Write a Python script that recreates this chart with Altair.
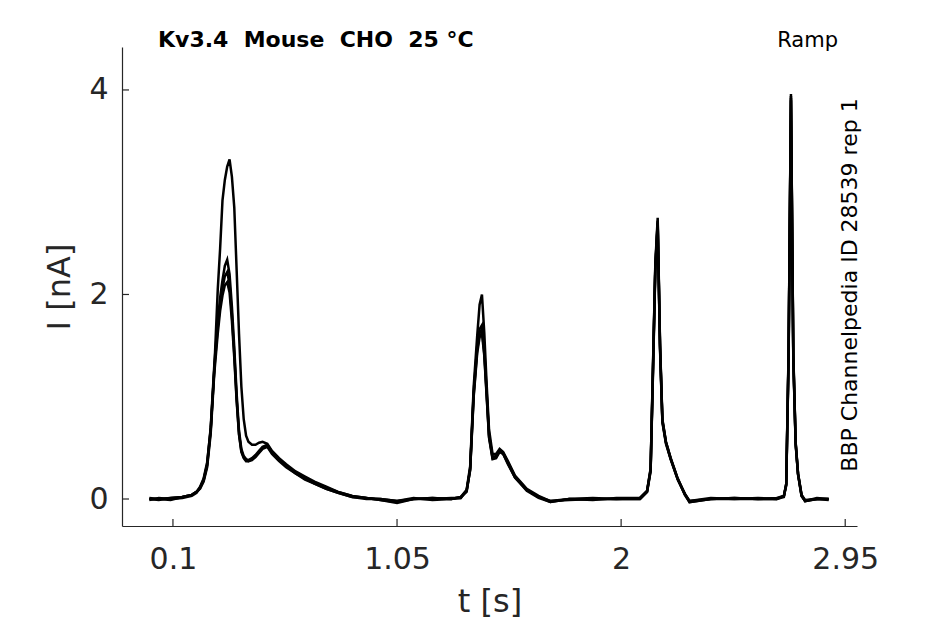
import altair as alt
import pandas as pd

# ---- data (time in s, current in nA) ----
t_seg1 = [0.000, 0.04, 0.09, 0.14, 0.18, 0.20, 0.215, 0.23, 0.245, 0.26,
          0.275, 0.29, 0.30, 0.31, 0.32, 0.33, 0.34, 0.35, 0.36, 0.37,
          0.38, 0.39, 0.40, 0.41, 0.42, 0.435, 0.45, 0.465, 0.48, 0.50,
          0.52, 0.55, 0.58, 0.62, 0.66, 0.70, 0.75, 0.80, 0.86, 0.92,
          0.98, 1.05, 1.12, 1.20, 1.28]
t_seg2 = [1.32, 1.345, 1.36, 1.375, 1.39, 1.40, 1.41, 1.42, 1.43, 1.44,
          1.455, 1.47, 1.485, 1.50, 1.52, 1.55, 1.60, 1.65, 1.70, 1.78,
          1.88, 1.98]
t_seg3 = [2.08, 2.11, 2.125, 2.135, 2.145, 2.155, 2.165, 2.175, 2.19, 2.21,
          2.24, 2.27, 2.29, 2.38, 2.48, 2.58]
t_seg4 = [2.66, 2.69, 2.70, 2.71, 2.72, 2.73, 2.74, 2.75, 2.765, 2.78, 2.83, 2.88]

sweep_A = ([0.00, -0.01, 0.01, 0.02, 0.04, 0.07, 0.12, 0.20, 0.36, 0.68,
            1.25, 2.05, 2.45, 2.92, 3.12, 3.25, 3.32, 3.15, 2.85, 2.24,
            1.62, 1.10, 0.78, 0.62, 0.56, 0.53, 0.53, 0.55, 0.56, 0.54,
            0.47, 0.40, 0.34, 0.27, 0.22, 0.17, 0.12, 0.07, 0.03, 0.01,
            0.00, -0.02, 0.00, 0.01, 0.00]
           + [0.02, 0.09, 0.32, 1.10, 1.60, 1.90, 2.00, 1.62, 1.12, 0.68,
              0.44, 0.44, 0.49, 0.46, 0.37, 0.23, 0.10, 0.03, -0.02, -0.01,
              0.00, 0.00]
           + [0.01, 0.08, 0.30, 1.30, 2.30, 2.75, 1.52, 0.78, 0.56, 0.40,
              0.20, 0.05, -0.03, 0.00, 0.01, 0.00]
           + [0.00, 0.03, 0.15, 1.45, 3.96, 1.40, 0.55, 0.25, 0.04, -0.02, 0.00, 0.00])

sweep_B = ([0.01, 0.00, -0.01, 0.02, 0.04, 0.07, 0.11, 0.19, 0.34, 0.70,
            1.30, 1.74, 1.97, 2.14, 2.28, 2.34, 2.20, 1.88, 1.48, 1.03,
            0.67, 0.49, 0.42, 0.39, 0.38, 0.40, 0.43, 0.47, 0.51, 0.53,
            0.46, 0.39, 0.33, 0.26, 0.21, 0.16, 0.11, 0.07, 0.03, 0.01,
            -0.01, -0.03, 0.00, 0.00, 0.01]
           + [0.01, 0.08, 0.30, 1.05, 1.50, 1.66, 1.70, 1.46, 1.05, 0.63,
              0.41, 0.42, 0.48, 0.45, 0.36, 0.22, 0.09, 0.02, -0.03, 0.00,
              0.01, 0.00]
           + [0.00, 0.07, 0.28, 1.25, 2.26, 2.72, 1.48, 0.76, 0.55, 0.39,
              0.19, 0.05, -0.02, 0.01, 0.00, 0.00]
           + [0.01, 0.03, 0.14, 1.40, 3.92, 1.38, 0.54, 0.24, 0.03, -0.02, 0.00, 0.00])

sweep_C = ([-0.01, 0.01, 0.00, 0.01, 0.03, 0.06, 0.11, 0.18, 0.33, 0.67,
            1.26, 1.68, 1.90, 2.06, 2.18, 2.22, 2.10, 1.80, 1.42, 0.98,
            0.64, 0.47, 0.41, 0.38, 0.37, 0.39, 0.42, 0.46, 0.50, 0.52,
            0.45, 0.38, 0.32, 0.25, 0.20, 0.15, 0.10, 0.06, 0.02, 0.00,
            0.00, -0.02, 0.01, -0.01, 0.00]
           + [0.02, 0.07, 0.29, 1.02, 1.46, 1.62, 1.66, 1.42, 1.02, 0.61,
              0.40, 0.41, 0.47, 0.44, 0.35, 0.21, 0.09, 0.02, -0.02, 0.00,
              -0.01, 0.01]
           + [0.01, 0.08, 0.29, 1.28, 2.28, 2.70, 1.50, 0.77, 0.56, 0.40,
              0.20, 0.04, -0.03, 0.00, 0.00, 0.01]
           + [0.00, 0.02, 0.15, 1.42, 3.94, 1.42, 0.55, 0.25, 0.04, -0.01, 0.00, -0.01])

sweep_D = ([0.00, 0.00, 0.01, 0.02, 0.04, 0.07, 0.10, 0.17, 0.31, 0.64,
            1.22, 1.62, 1.84, 1.99, 2.09, 2.12, 2.02, 1.74, 1.38, 0.96,
            0.63, 0.46, 0.40, 0.37, 0.37, 0.38, 0.41, 0.45, 0.49, 0.51,
            0.44, 0.37, 0.31, 0.25, 0.19, 0.15, 0.10, 0.06, 0.02, 0.01,
            -0.01, -0.04, 0.00, 0.01, 0.00]
           + [0.01, 0.08, 0.28, 1.00, 1.43, 1.58, 1.62, 1.40, 1.00, 0.60,
              0.39, 0.40, 0.46, 0.44, 0.34, 0.21, 0.08, 0.01, -0.03, 0.00,
              0.00, 0.00]
           + [0.00, 0.07, 0.27, 1.22, 2.24, 2.68, 1.46, 0.75, 0.54, 0.39,
              0.19, 0.05, -0.02, 0.00, 0.01, 0.00]
           + [0.00, 0.03, 0.13, 1.38, 3.90, 1.36, 0.53, 0.24, 0.03, -0.02, 0.01, 0.00])

x_ticks = [0.1, 1.05, 2, 2.95]
y_ticks = [0, 2, 4]

NB = "\u00a0"
title_text = f"Kv3.4{NB}{NB}Mouse{NB}{NB}CHO{NB}{NB}25{NB}°C"
protocol_text = "Ramp"
side_text = "BBP Channelpedia ID 28539 rep 1"

# ---- build table ----
times = t_seg1 + t_seg2 + t_seg3 + t_seg4
rows = []
for name, vals in [("A", sweep_A), ("B", sweep_B), ("C", sweep_C), ("D", sweep_D)]:
    for i, (tt, v) in enumerate(zip(times, vals)):
        rows.append({"sweep": name, "t": tt, "I": v, "order": i})
df = pd.DataFrame(rows)

W, H = 735, 479
XDOM = [-0.116, 3.0]
YDOM = [-0.264, 4.42]
AX = "#262626"
FONT = "DejaVu Sans"

xs = alt.Scale(domain=XDOM, nice=False, zero=False)
ys = alt.Scale(domain=YDOM, nice=False, zero=False)

lines = alt.Chart(df).mark_line(color="black", strokeWidth=2.5).encode(
    x=alt.X("t:Q", scale=xs,
            axis=alt.Axis(values=x_ticks, labelExpr="format(datum.value, '.2~f')",
                          title="t [s]", grid=False,
                          tickSize=0, labelPadding=18, labelFontSize=30, titleFontSize=32,
                          titleFontWeight="normal", titlePadding=12, labelFont=FONT,
                          titleFont=FONT, labelColor=AX, titleColor=AX, domainColor=AX,
                          domainWidth=1.2, labelFlush=False)),
    y=alt.Y("I:Q", scale=ys,
            axis=alt.Axis(values=y_ticks, labelExpr="format(datum.value, '.0f')",
                          title="I [nA]", grid=False, tickSize=0,
                          labelPadding=14, labelFontSize=30, titleFontSize=32,
                          titleFontWeight="normal", titlePadding=12, labelFont=FONT,
                          titleFont=FONT, labelColor=AX, titleColor=AX, domainColor=AX,
                          domainWidth=1.2, labelFlush=False)),
    detail="sweep:N",
    order="order:Q",
)

xt = alt.Chart(pd.DataFrame({"v": x_ticks})).mark_rule(color=AX, strokeWidth=1.2).encode(
    x=alt.X("v:Q", scale=xs), y=alt.value(H), y2=alt.value(H - 7))
yt = alt.Chart(pd.DataFrame({"v": y_ticks})).mark_rule(color=AX, strokeWidth=1.2).encode(
    y=alt.Y("v:Q", scale=ys), x=alt.value(0), x2=alt.value(7))

one = pd.DataFrame({"k": [0]})
title = alt.Chart(one).mark_text(font=FONT, fontWeight="bold", fontSize=22, align="left",
                                 baseline="alphabetic", color="black").encode(
    x=alt.value(36), y=alt.value(0), text=alt.value(title_text))
ramp = alt.Chart(one).mark_text(font=FONT, fontSize=21, align="right",
                                baseline="alphabetic", color="black").encode(
    x=alt.value(716), y=alt.value(0), text=alt.value(protocol_text))
side = alt.Chart(one).mark_text(font=FONT, fontSize=22, align="center", angle=270,
                                baseline="middle", color="black").encode(
    x=alt.value(728), y=alt.value(238), text=alt.value(side_text))

chart = alt.layer(lines, xt, yt, title, ramp, side).properties(
    width=W, height=H,
    autosize=alt.AutoSizeParams(type="none"),
    padding={"left": 114, "top": 39, "right": 80, "bottom": 98},
).configure_view(stroke="transparent").configure_axis(ticks=False)

chart.save("out.html", embed_options={"renderer": "svg", "actions": False})
